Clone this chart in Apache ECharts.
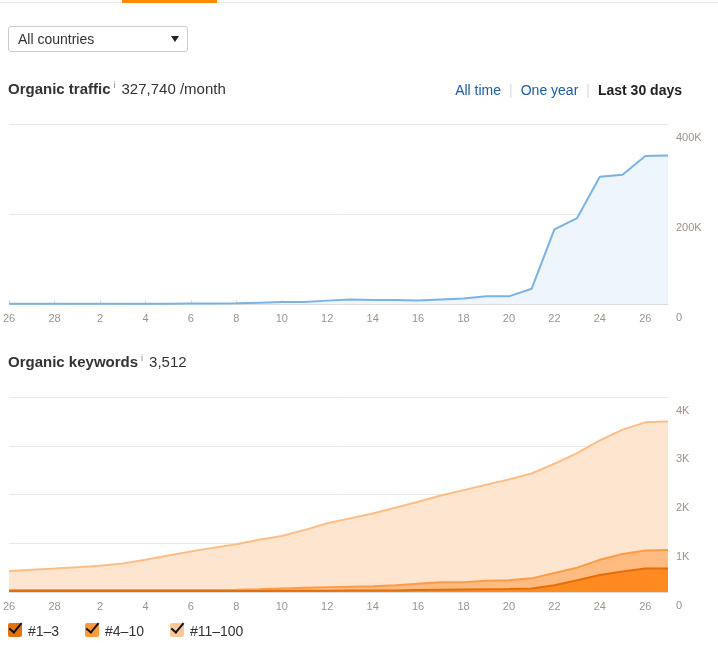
<!DOCTYPE html>
<html><head><meta charset="utf-8">
<script src="https://cdn.jsdelivr.net/npm/echarts@6/dist/echarts.min.js"></script>
<style>
body{margin:0;width:718px;height:654px;background:#fff;font-family:Arial,"Liberation Sans",sans-serif;position:relative;overflow:hidden}
#topline{position:absolute;left:0;top:2px;width:718px;height:1px;background:#e6e6e6}
#tab{position:absolute;left:122px;top:0;width:95px;height:3px;background:#ff8a00}
#sel{position:absolute;left:8px;top:26px;width:178px;height:24px;border:1px solid #ccc;border-radius:3px;font-size:14px;color:#333;line-height:24px;box-sizing:content-box}
#sel span{position:absolute;left:9px}
#sel i{position:absolute;right:8px;top:9px;width:0;height:0;border-left:4px solid transparent;border-right:4px solid transparent;border-top:6px solid #222}
.title{position:absolute;left:8px;font-size:15px;color:#333}
.title b{font-weight:bold}
.title sup{font-size:9px;color:#888;margin:0 6px 0 3px}
#ranges{position:absolute;top:82px;right:36px;font-size:14px}
#ranges a{color:#1a5da8;text-decoration:none;padding:0 8px}
#ranges .sep{color:#ddd}
#ranges b{color:#222;padding-left:8px}
#chart{position:absolute;left:0;top:0;width:718px;height:654px}
#legend{position:absolute;left:8px;top:622px;font-size:14px;color:#333}
.lg{display:inline-block;margin-right:22px;position:relative;padding-left:20px;line-height:18px}
.lg .box{position:absolute;left:0;top:1px;width:14px;height:14px;border-radius:2px}
.lg .box:after{content:"";position:absolute;left:4px;top:-3px;width:5px;height:11px;border:solid #111;border-width:0 2px 2px 0;transform:rotate(40deg)}
</style></head><body>
<div id="chart"></div>
<div id="topline"></div><div id="tab"></div>
<div id="sel"><span>All countries</span><i></i></div>
<div class="title" style="top:80px"><b>Organic traffic</b><sup>i</sup>327,740 /month</div>
<div id="ranges"><a>All time</a><span class="sep">|</span><a>One year</a><span class="sep">|</span><b>Last 30 days</b></div>
<div class="title" style="top:353px"><b>Organic keywords</b><sup>i</sup>3,512</div>
<div id="legend">
<span class="lg"><span class="box" style="background:#e3720c"></span>#1–3</span>
<span class="lg"><span class="box" style="background:#ff9a3c"></span>#4–10</span>
<span class="lg"><span class="box" style="background:#fcc896"></span>#11–100</span>
</div>
<script>
const days = ['26','27','28','1','2','3','4','5','6','7','8','9','10','11','12','13','14','15','16','17','18','19','20','21','22','23','24','25','26','27'];
const traffic = [500,500,600,600,700,700,800,800,900,1000,1500,3000,4500,4500,7500,10000,9000,9000,8000,10000,12000,17000,17000,34000,166000,191000,283000,287000,329000,330000];
const top3 = [20,20,20,20,20,20,20,20,20,20,20,20,25,25,25,30,30,30,40,45,50,55,60,70,140,240,350,420,480,480];
const top10Cum = [40,40,40,40,40,40,40,40,40,40,45,55,70,85,100,110,120,140,170,200,200,230,240,280,390,500,660,780,850,860];
const top100Cum = [430,455,480,510,540,585,660,750,830,910,980,1070,1150,1270,1410,1510,1610,1730,1850,1980,2090,2200,2310,2430,2630,2850,3110,3330,3480,3500];
const pos4to10 = top10Cum.map((v,i)=>v-top3[i]);
const pos11to100 = top100Cum.map((v,i)=>v-top10Cum[i]);

const lbl = {color:'#a0918a',fontSize:11,fontFamily:'Arial'};
function xAxis(g){return {type:'category',gridIndex:g,data:days,boundaryGap:false,
  axisLine:{lineStyle:{color:'#ddd'}},axisTick:{inside:true,length:4,interval:1,lineStyle:{color:'#ddd'}},
  axisLabel:Object.assign({interval:1,margin:9},lbl)};}
function yAxis(g,max,interval,fmt){return {type:'value',gridIndex:g,position:'right',min:0,max:max,interval:interval,
  splitLine:{lineStyle:{color:'#e8e8e8'}},axisLine:{show:false},axisTick:{show:false},
  axisLabel:Object.assign({formatter:fmt,verticalAlign:'top',padding:[8,0,0,0],margin:8,align:'left'},lbl)};}
const chart = echarts.init(document.getElementById('chart'));
chart.setOption({
  animation:false,
  grid:[{left:8,right:50,top:124,height:180},{left:8,right:50,top:397,height:195}],
  xAxis:[xAxis(0),xAxis(1)],
  yAxis:[yAxis(0,400000,200000,v=>v===0?'0':(v/1000)+'K'),yAxis(1,4000,1000,v=>v===0?'0':(v/1000)+'K')],
  series:[
    {type:'line',xAxisIndex:0,yAxisIndex:0,data:traffic,symbol:'none',lineStyle:{color:'#7ab3e5',width:2},areaStyle:{color:'#eef5fd',opacity:1}},
    {name:'#1–3',type:'line',xAxisIndex:1,yAxisIndex:1,stack:'k',data:top3,symbol:'none',lineStyle:{color:'#e36f0a',width:2},areaStyle:{color:'#ff8a1f',opacity:1},z:5},
    {name:'#4–10',type:'line',xAxisIndex:1,yAxisIndex:1,stack:'k',data:pos4to10,symbol:'none',lineStyle:{color:'#ff9a45',width:2},areaStyle:{color:'#ffbb80',opacity:1},z:4},
    {name:'#11–100',type:'line',xAxisIndex:1,yAxisIndex:1,stack:'k',data:pos11to100,symbol:'none',lineStyle:{color:'#ffbd85',width:2},areaStyle:{color:'#fde5cf',opacity:1},z:3}
  ]
});
</script></body></html>
